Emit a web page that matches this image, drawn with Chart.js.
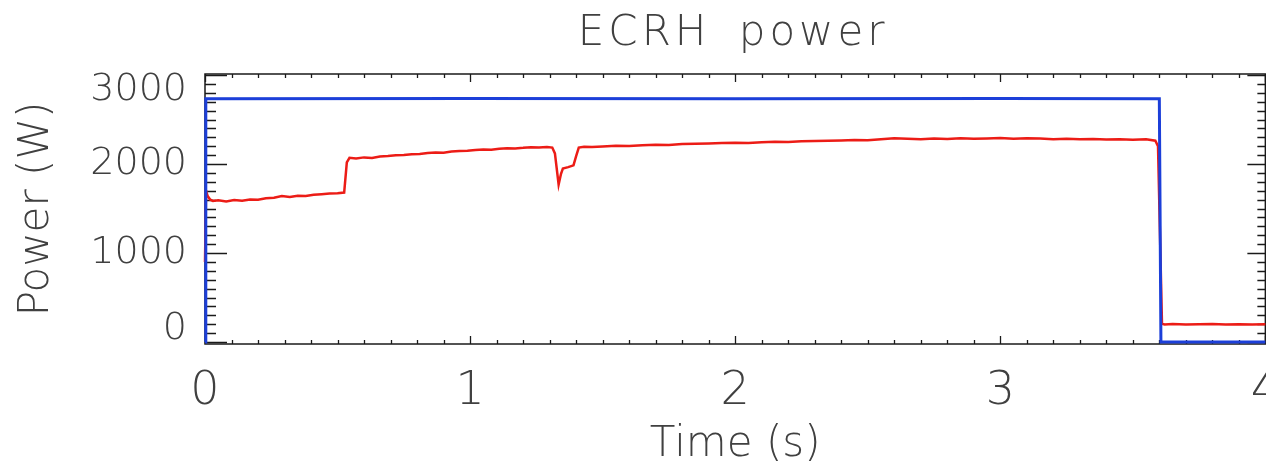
<!DOCTYPE html>
<html>
<head>
<meta charset="utf-8">
<title>ECRH power</title>
<script src="https://cdn.jsdelivr.net/npm/chart.js@4.4.1/dist/chart.umd.min.js"></script>
<style>
    html, body { margin: 0; padding: 0; background: #fff; overflow: hidden; }
    #wrap { width: 1300px; height: 472px; }
</style>
</head>
<body>
<div id="wrap"><canvas id="ecrhChart" width="1300" height="472"></canvas></div>
<script>
// Axis ticks
const xTicks = [0, 1, 2, 3, 4];
const yTicks = [0, 1000, 2000, 3000];
const chartTitle = 'ECRH power';

// Forward power (blue)
const blueTime = [0, 0.003, 1.0, 2.0, 3.0, 3.600, 3.606, 4.0];
const bluePower = [0, 2735, 2738, 2735, 2738, 2735, 0, 0];

// Absorbed power (red)
const redTime = [
    0, 0.004, 0.01, 0.02, 0.03, 0.05, 0.08, 0.11, 0.14, 0.17, 0.20, 0.23, 0.26, 0.29,
    0.32, 0.35, 0.38, 0.41, 0.44, 0.47, 0.50, 0.525, 0.535, 0.545, 0.57, 0.60, 0.63,
    0.66, 0.69, 0.72, 0.75, 0.78, 0.81, 0.84, 0.87, 0.90, 0.93, 0.96, 0.99, 1.02, 1.05,
    1.08, 1.11, 1.14, 1.17, 1.20, 1.23, 1.26, 1.29, 1.31, 1.32, 1.334, 1.343, 1.35,
    1.37, 1.39, 1.40, 1.41, 1.43, 1.46, 1.50, 1.55, 1.60, 1.65, 1.70, 1.75, 1.80, 1.85,
    1.90, 1.95, 2.00, 2.05, 2.10, 2.15, 2.20, 2.25, 2.30, 2.35, 2.40, 2.45, 2.50, 2.55,
    2.60, 2.65, 2.70, 2.75, 2.80, 2.85, 2.90, 2.95, 3.00, 3.05, 3.10, 3.15, 3.20, 3.25,
    3.30, 3.35, 3.40, 3.45, 3.50, 3.55, 3.585, 3.595, 3.61, 3.62, 3.65, 3.70, 3.75,
    3.80, 3.85, 3.90, 3.95, 4.00
];
const redPower = [
    900, 1700, 1640, 1600, 1585, 1592, 1580, 1595, 1588, 1602, 1598, 1615, 1622, 1640,
    1630, 1645, 1642, 1655, 1662, 1668, 1672, 1680, 2020, 2070, 2062, 2075, 2068,
    2085, 2090, 2098, 2102, 2110, 2112, 2125, 2130, 2128, 2140, 2146, 2150, 2158, 2163,
    2160, 2172, 2178, 2176, 2182, 2190, 2186, 2192, 2185, 2120, 1770, 1890, 1950,
    1965, 1985, 2090, 2185, 2195, 2192, 2198, 2205, 2202, 2212, 2218, 2215, 2225, 2228,
    2232, 2236, 2240, 2238, 2246, 2250, 2248, 2255, 2258, 2262, 2265, 2270, 2268, 2280,
    2290, 2284, 2280, 2286, 2282, 2290, 2284, 2288, 2292, 2285, 2290, 2286, 2280, 2284,
    2278, 2282, 2276, 2280, 2274, 2278, 2262, 2200, 205, 198, 202, 196, 200,
    204, 198, 200, 196, 200
];

const FONT = '"DejaVu Sans", sans-serif';
const TEXT = '#404040';

function toPoints(xs, ys) {
    return xs.map((x, i) => ({ x: x, y: ys[i] }));
}

// Frame, inward ticks on all four sides, y labels kept inside the frame, title over the plot
const framePlugin = {
    id: 'frame',
    beforeDatasetsDraw(chart) {
        const { ctx, chartArea: a, scales: { x, y } } = chart;
        ctx.save();
        ctx.strokeStyle = '#1a1a1a';
        ctx.lineWidth = 1.5;
        ctx.strokeRect(a.left, a.top, a.right - a.left, a.bottom - a.top);

        ctx.lineWidth = 1.3;
        ctx.beginPath();
        for (let i = 0; i <= 30; i++) {
            const py = Math.round(y.getPixelForValue(i * 100)) + 0.5;
            const major = i % 10 === 0;
            ctx.moveTo(a.left, py);
            ctx.lineTo(a.left + (major ? 22 : 11), py);
            ctx.moveTo(a.right, py);
            ctx.lineTo(a.right - (major ? 18 : 8), py);
        }
        for (let i = 0; i <= 40; i++) {
            const px = Math.round(x.getPixelForValue(i / 10)) + 0.5;
            const major = i % 10 === 0;
            ctx.moveTo(px, a.bottom);
            ctx.lineTo(px, a.bottom - (major ? 8 : 4));
            ctx.moveTo(px, a.top);
            ctx.lineTo(px, a.top + (major ? 8 : 4));
        }
        ctx.stroke();

        // y tick labels
        const size = 38;
        ctx.font = '200 ' + size + 'px ' + FONT;
        ctx.fillStyle = TEXT;
        ctx.textAlign = 'right';
        ctx.textBaseline = 'middle';
        const half = size * 0.37;
        yTicks.forEach(v => {
            let py = y.getPixelForValue(v);
            py = Math.min(Math.max(py, a.top + half + 2), a.bottom - half - 1);
            ctx.fillText(String(v), a.left - 18, py);
        });

        // title, centred over the plot area
        ctx.font = '200 42px ' + FONT;
        ctx.textAlign = 'center';
        ctx.textBaseline = 'alphabetic';
        ctx.letterSpacing = '4px';
        ctx.wordSpacing = '11px';
        ctx.fillText(chartTitle, (a.left + a.right) / 2 - 2, 45);
        ctx.restore();
    }
};

const ctx = document.getElementById('ecrhChart').getContext('2d');
const ecrhChart = new Chart(ctx, {
    type: 'line',
    data: {
        datasets: [{
            label: 'Forward',
            data: toPoints(blueTime, bluePower),
            borderColor: '#1c3fd9',
            borderWidth: 3,
            pointRadius: 0,
            tension: 0,
            clip: 4
        }, {
            label: 'Absorbed',
            data: toPoints(redTime, redPower),
            borderColor: '#ec1c16',
            borderWidth: 2.5,
            pointRadius: 0,
            tension: 0,
            clip: 4
        }]
    },
    options: {
        responsive: false,
        animation: false,
        layout: { padding: { left: 0, right: 34, top: 74, bottom: 0 } },
        plugins: {
            legend: { display: false },
            tooltip: { enabled: false },
            title: { display: false }
        },
        scales: {
            x: {
                type: 'linear',
                min: 0,
                max: 4,
                afterBuildTicks: scale => { scale.ticks = xTicks.map(v => ({ value: v })); },
                afterFit: scale => { scale.height = 128; },
                grid: { display: false, drawTicks: false },
                border: { display: false },
                ticks: {
                    color: TEXT,
                    padding: 20,
                    maxRotation: 0,
                    font: { family: FONT, size: 46, weight: '200' }
                },
                title: {
                    display: true,
                    text: 'Time (s)',
                    color: TEXT,
                    font: { family: FONT, size: 42, weight: '200' },
                    padding: { top: 0, bottom: 2 }
                }
            },
            y: {
                min: -22,
                max: 3012,
                afterBuildTicks: scale => { scale.ticks = yTicks.map(v => ({ value: v })); },
                afterFit: scale => { scale.width = 205; },
                grid: { display: false, drawTicks: false },
                border: { display: false },
                ticks: { display: false },
                title: {
                    display: true,
                    text: 'Power (W)',
                    color: TEXT,
                    font: { family: FONT, size: 42, weight: '200' },
                    padding: { top: 12, bottom: 0 }
                }
            }
        }
    },
    plugins: [framePlugin]
});
</script>
</body>
</html>
